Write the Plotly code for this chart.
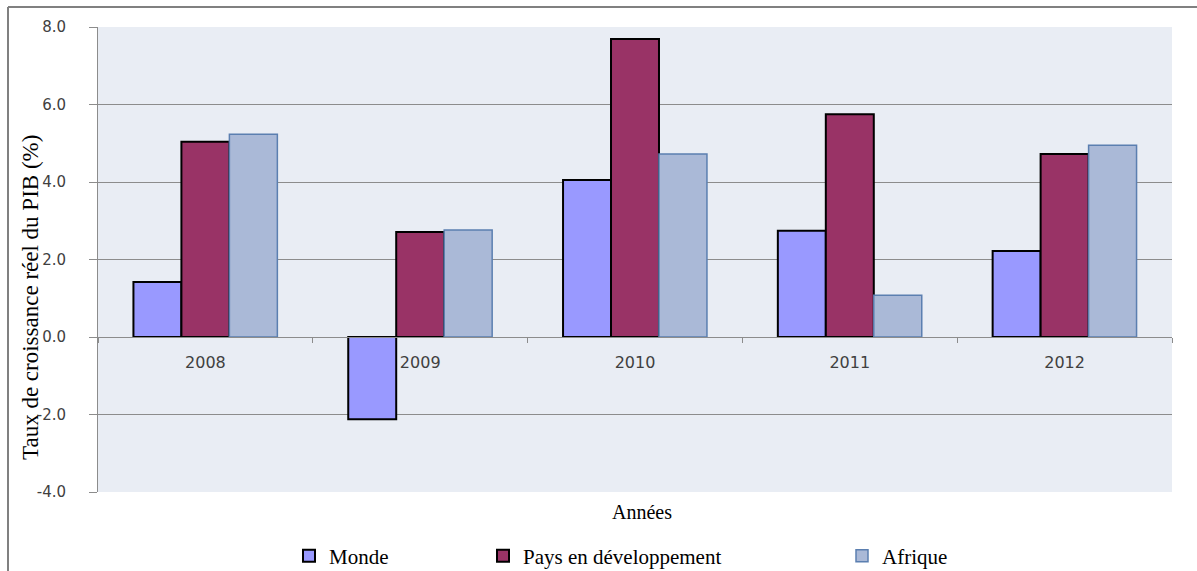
import plotly.graph_objects as go

years = ["2008", "2009", "2010", "2011", "2012"]
monde = [1.42, -2.12, 4.05, 2.74, 2.22]
pays_dev = [5.04, 2.71, 7.69, 5.75, 4.72]
afrique = [5.23, 2.76, 4.72, 1.08, 4.95]
y_ticks = [-4, -2, 0, 2, 4, 6, 8]
y_tick_labels = ["-4.0", "-2.0", "0.0", "2.0", "4.0", "6.0", "8.0"]

W, H = 1197, 571
L, R, T, B = 98, 25, 27, 79
pw, ph = W - L - R, H - T - B

def px_x(p):
    return (p - L) / pw

def px_y(p):
    return (H - B - p) / ph

fig = go.Figure()
fig.add_trace(go.Bar(name="Monde", x=years, y=monde, marker=dict(color="#9999ff", line=dict(color="#000000", width=2)), legend="legend"))
fig.add_trace(go.Bar(name="Pays en développement", x=years, y=pays_dev, marker=dict(color="#993366", line=dict(color="#000000", width=2)), legend="legend2"))
fig.add_trace(go.Bar(name="Afrique", x=years, y=afrique, marker=dict(color="#aab9d7", line=dict(color="#5b7fb0", width=1.5)), legend="legend3"))

sans = "DejaVu Sans, Verdana, sans-serif"
serif = "Liberation Serif, Times New Roman, serif"
leg_font = dict(family=serif, size=21, color="#000000")
leg_common = dict(orientation="h", yanchor="middle", y=px_y(556), xanchor="left", font=leg_font, bgcolor="rgba(0,0,0,0)", itemwidth=30)

fig.update_layout(
    width=W, height=H,
    margin=dict(l=L, r=R, t=T, b=B, autoexpand=False),
    paper_bgcolor="#ffffff",
    plot_bgcolor="#e9edf4",
    barmode="group",
    bargap=0.33,
    bargroupgap=0,
    showlegend=True,
    legend=dict(x=px_x(289), **leg_common),
    legend2=dict(x=px_x(483), **leg_common),
    legend3=dict(x=px_x(842), **leg_common),
    xaxis=dict(
        type="category",
        anchor="free", position=1/3,
        showline=True, linecolor="#8c8c8c", linewidth=1,
        ticks="outside", ticklen=5, tickcolor="#8c8c8c", tickson="boundaries",
        ticklabelstandoff=11,
        tickfont=dict(family=sans, size=16, color="#404040"),
        showgrid=False,
    ),
    yaxis=dict(
        range=[-4, 8],
        tickvals=y_ticks, ticktext=y_tick_labels,
        tickfont=dict(family=sans, size=15, color="#404040"),
        ticklabelstandoff=20,
        showgrid=True, gridcolor="#8c8c8c", gridwidth=1,
        zeroline=False,
        showline=True, linecolor="#8c8c8c", linewidth=1,
        ticks="outside", ticklen=8, tickcolor="#8c8c8c",
    ),
    annotations=[
        dict(text="Taux de croissance réel du PIB (%)", xref="paper", yref="paper",
             x=px_x(30), y=px_y(298), xanchor="center", yanchor="middle",
             textangle=-90, showarrow=False,
             font=dict(family=serif, size=23, color="#000000")),
        dict(text="Années", xref="paper", yref="paper", x=px_x(642), y=px_y(512),
             xanchor="center", yanchor="middle",
             showarrow=False, font=dict(family=serif, size=20, color="#000000")),
    ],
    shapes=[
        dict(type="line", xref="paper", yref="paper", x0=px_x(8), x1=px_x(1210), y0=px_y(7), y1=px_y(7),
             line=dict(color="#808080", width=2)),
        dict(type="line", xref="paper", yref="paper", x0=px_x(8), x1=px_x(8), y0=px_y(7), y1=px_y(590),
             line=dict(color="#808080", width=2)),
    ],
)

fig.write_html("out.html")
